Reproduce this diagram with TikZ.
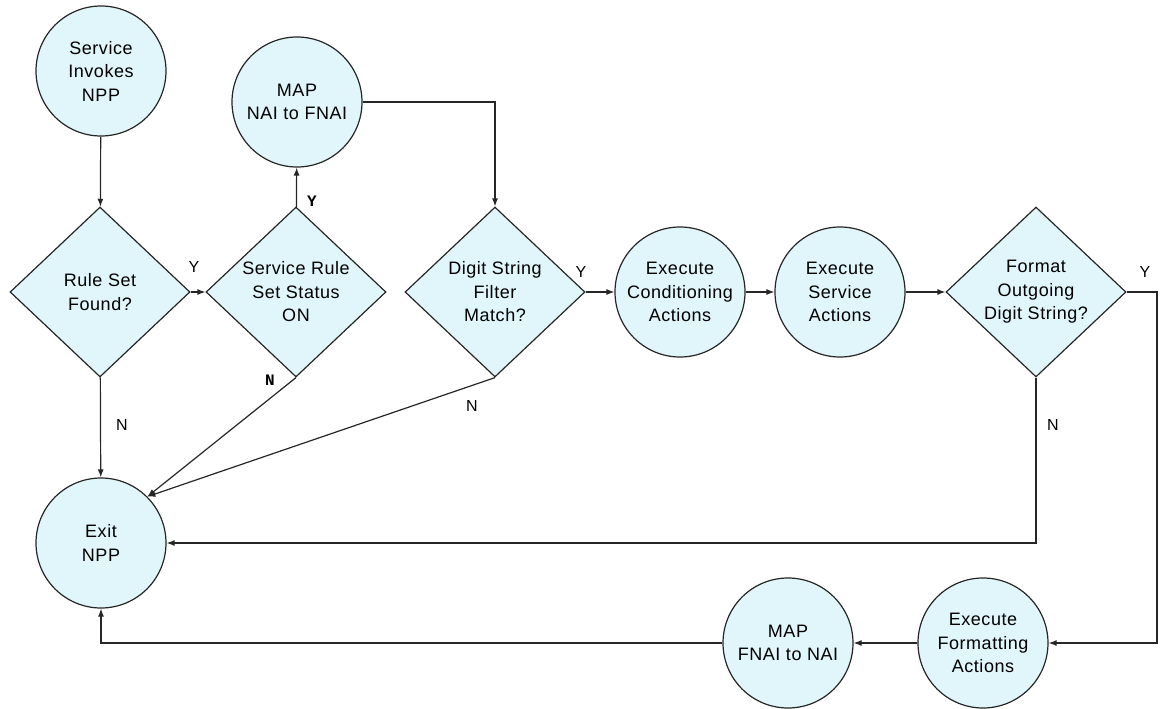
\documentclass[tikz,border=0pt]{standalone}
\usepackage{fontspec}
\setmainfont[LetterSpace=3]{Liberation Sans}
\newfontfamily\ynfont{Liberation Mono}
\usepackage{tikz}
\usetikzlibrary{arrows.meta, shapes, positioning}
\tikzset{>={Latex[length=8pt,width=6pt]}}
\definecolor{nppfill}{RGB}{225,246,250}
\newcommand{\nppfont}{\fontsize{18}{23.5}\selectfont}
\tikzset{
  proc/.style={circle, draw, fill=nppfill, minimum size=130pt, inner sep=0pt, align=center, font=\nppfont},
  decide/.style={diamond, draw, fill=nppfill, minimum width=180pt, minimum height=170pt, inner sep=0pt, align=center, font=\nppfont},
  yn/.style={font=\fontsize{16}{16}\selectfont},
  ynbold/.style={font=\ynfont\bfseries\fontsize{16}{16}\selectfont},
}

\begin{document}
\begin{tikzpicture}[x=1pt, y=-1pt, line width=1.2pt, draw=black!85]
  \useasboundingbox (0,0) rectangle (1165,709);
  \node [proc] (start) at (101,71) {Service\\Invokes\\NPP};
  \node [decide] (rule) at (100,292) {Rule Set\\Found?};
  \node [decide] (status) at (296,292) {Service Rule\\Set Status\\ON};
  \node [proc] (mapin) at (297,102) {MAP\\NAI to FNAI};
  \node [decide] (digit) at (495,292) {Digit String\\Filter\\Match?};
  \node [proc] (cond) at (680,292) {Execute\\Conditioning\\Actions};
  \node [proc] (serv) at (840,292) {Execute\\Service\\Actions};
  \node [decide] (fmt) at (1036,292) {Format\\Outgoing\\Digit String?};
  \node [proc] (exit) at (101,543) {Exit\\NPP};
  \node [proc] (fmtact) at (983,643) {Execute\\Formatting\\Actions};
  \node [proc] (mapout) at (788,643) {MAP\\FNAI to NAI};
  \coordinate (fmtY) at (1157,292);

  \draw [->] (start) -- (rule);
  \draw [->] (rule) -- (status);
  \draw [->] (rule) -- (exit);
  \draw [->] (status) -- (mapin);
  \draw [->] (status.south) -- (exit.north east);
  \draw [->] (mapin.east) -| (digit.north);
  \draw [->] (digit) -- (cond);
  \draw [->] (digit.south) -- (exit.north east);
  \draw [->] (cond) -- (serv);
  \draw [->] (serv) -- (fmt);
  \draw [->] (fmt.east) -- (fmtY) |- (fmtact.east);
  \draw [->] (fmt.south) |- (exit.east);
  \draw [->] (fmtact) -- (mapout);
  \draw [->] (mapout.west) -| (exit.south);

  \node [yn] (ruleY) at (194,267) {Y};
  \node [yn] (ruleN) at (122,425) {N};
  \node [ynbold] (statusY) at (312,201) {Y};
  \node [ynbold] (statusN) at (270,380) {N};
  \node [yn] (digitY) at (581,272) {Y};
  \node [yn] (digitN) at (472,406) {N};
  \node [yn] (fmtYlab) at (1145,272) {Y};
  \node [yn] (fmtN) at (1053,425) {N};
\end{tikzpicture}
\end{document}
